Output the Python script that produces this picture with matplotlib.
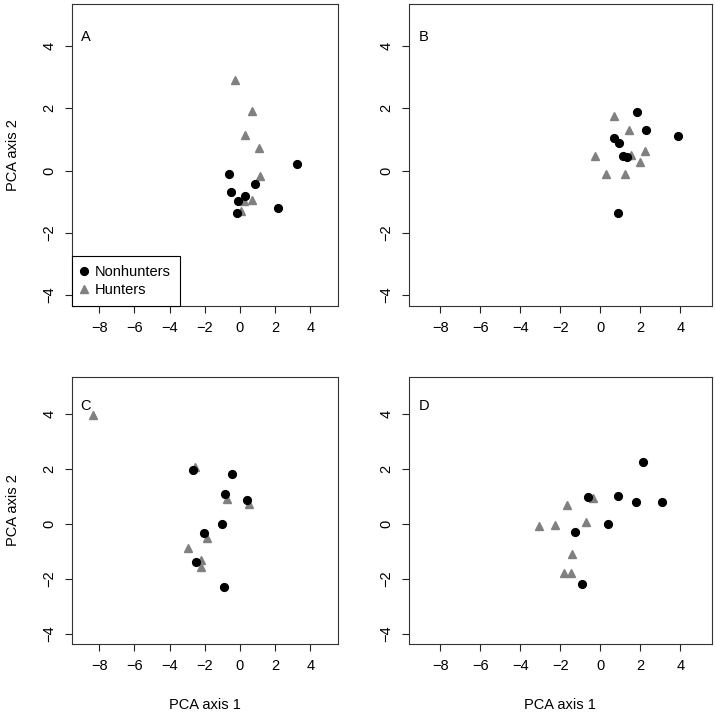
"""
PCA scores for nonhunters vs hunters, four panels (A-D), R base-graphics look.
"""

import matplotlib.pyplot as plt

plt.rcParams["font.family"] = ["Liberation Sans", "DejaVu Sans"]
plt.rcParams["font.size"] = 10.5

PANEL_LABELS = ["A", "B", "C", "D"]

# panel A
a_non_x = [3.27, -0.60, 0.85, -0.49, 0.30, -0.11, -0.19, 2.17]
a_non_y = [0.21, -0.10, -0.43, -0.70, -0.82, -0.97, -1.36, -1.21]
a_hun_x = [-0.26, 0.68, 0.28, 1.06, 1.12, 0.70, 0.23, 0.09]
a_hun_y = [2.93, 1.93, 1.13, 0.73, -0.17, -0.94, -0.97, -1.29]

# panel B
b_non_x = [1.85, 2.29, 3.89, 0.70, 0.95, 1.12, 1.32, 0.88]
b_non_y = [1.88, 1.29, 1.12, 1.06, 0.89, 0.46, 0.42, -1.36]
b_hun_x = [0.68, 1.44, -0.25, 1.55, 2.24, 1.99, 0.28, 1.24]
b_hun_y = [1.77, 1.29, 0.47, 0.51, 0.62, 0.27, -0.10, -0.10]

# panel C
c_non_x = [-2.67, -0.43, -0.87, 0.43, -1.02, -2.06, -2.51, -0.89]
c_non_y = [1.97, 1.83, 1.08, 0.89, 0.02, -0.33, -1.37, -2.31]
c_hun_x = [-8.37, -2.57, -0.74, 0.51, -1.85, -2.97, -2.19, -2.21]
c_hun_y = [3.98, 2.08, 0.92, 0.74, -0.52, -0.86, -1.32, -1.57]

# panel D
d_non_x = [2.15, -0.62, 0.90, 1.79, 3.06, 0.40, -1.29, -0.92]
d_non_y = [2.27, 0.97, 1.03, 0.81, 0.81, 0.01, -0.29, -2.20]
d_hun_x = [-0.37, -1.67, -0.73, -3.06, -2.27, -1.40, -1.80, -1.49]
d_hun_y = [0.96, 0.68, 0.08, -0.08, -0.05, -1.09, -1.77, -1.77]

X_TICKS = [-8, -6, -4, -2, 0, 2, 4]
Y_TICKS = [-4, -2, 0, 2, 4]

# panel boxes in pixels (left, top, right, bottom) on a 715x716 canvas
W, H = 715, 716
BOXES = [
    (71.7, 4, 337.7, 306),
    (409, 4, 711.7, 306),
    (71.7, 377, 337.7, 643.7),
    (409, 377, 711.7, 643.7),
]


def r_axes(fig, box):
    l, t, r, b = box
    ax = fig.add_axes([l / W, 1 - b / H, (r - l) / W, (b - t) / H])
    # R default: data range (-9, 5) x (-4, 5) expanded by 4%
    ax.set_xlim(-9 - 0.56, 5 + 0.56)
    ax.set_ylim(-4 - 0.36, 5 + 0.36)
    ax.set_xticks(X_TICKS)
    ax.set_yticks(Y_TICKS)
    ax.tick_params(direction="out", length=5, width=0.8, color="#222222", pad=6)
    for lbl in ax.get_yticklabels():
        lbl.set_rotation(90)
        lbl.set_va("center")
    for sp in ax.spines.values():
        sp.set_linewidth(0.8)
        sp.set_color("#333333")
    return ax


def main() -> None:
    fig = plt.figure(figsize=(W / 100, H / 100), dpi=100)

    panels = [
        (a_non_x, a_non_y, a_hun_x, a_hun_y),
        (b_non_x, b_non_y, b_hun_x, b_hun_y),
        (c_non_x, c_non_y, c_hun_x, c_hun_y),
        (d_non_x, d_non_y, d_hun_x, d_hun_y),
    ]

    for i, (box, (nx, ny, hx, hy)) in enumerate(zip(BOXES, panels)):
        ax = r_axes(fig, box)
        ax.plot(hx, hy, linestyle="none", marker="^", markersize=6,
                color="#808080", label="Hunters")
        ax.plot(nx, ny, linestyle="none", marker="o", markersize=5.6,
                color="black", label="Nonhunters")
        ax.text(0.033, 0.89, PANEL_LABELS[i], transform=ax.transAxes,
                ha="left", va="center", fontsize=10.5)
        if i % 2 == 0:
            ax.set_ylabel("PCA axis 2", labelpad=16)
        if i >= 2:
            ax.set_xlabel("PCA axis 1", labelpad=18)
        if i == 0:
            handles, labels = ax.get_legend_handles_labels()
            leg = ax.legend(handles[::-1], labels[::-1], loc="lower left",
                            borderaxespad=0, fancybox=False, framealpha=1,
                            edgecolor="black", handlelength=0.5,
                            handletextpad=0.5, borderpad=0.6, labelspacing=0.3)
            leg.get_frame().set_linewidth(0.8)

    fig.savefig("out.png", dpi=100)


if __name__ == "__main__":
    main()
